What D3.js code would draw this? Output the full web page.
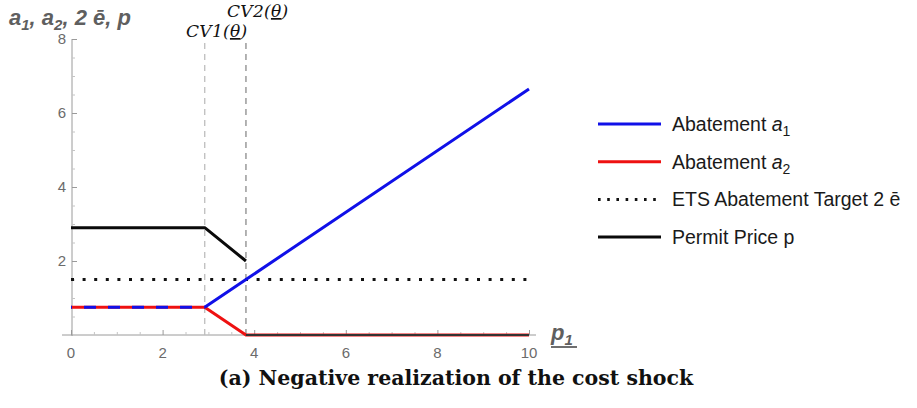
<!DOCTYPE html>
<html>
<head>
<meta charset="utf-8">
<script src="https://cdn.jsdelivr.net/npm/d3@7/dist/d3.min.js"></script>
<style>
  html, body { margin: 0; padding: 0; background: #fff; }
  svg { display: block; }
</style>
</head>
<body>
<svg id="chart" width="917" height="408"></svg>
<script>
// Breakpoints along p1 and the piecewise-linear series evaluated there
const p1Points = [0, 2.92, 3.82, 10];
const abatementA1 = [0.75, 0.75, 1.5, 6.65];
const abatementA2 = [0.75, 0.75, 0, 0];
// Permit price: constant, then falling to CV2, then zero beyond CV2
const permitHighP1 = [0, 2.92, 3.82];
const permitHigh = [2.9, 2.9, 2.0];
const permitLowP1 = [3.82, 10];
const permitLow = [0, 0];
const etsTarget = 1.5;
const criticalValues = [2.92, 3.82];
const xTicks = [0, 2, 4, 6, 8, 10];
const yTicks = [2, 4, 6, 8];

const svg = d3.select("#chart");
const x = d3.scaleLinear().domain([0, 10]).range([71, 529]);
const y = d3.scaleLinear().domain([0, 8]).range([335, 39]);
const axisGrey = "#9a9a9a";
const labelGrey = "#6b6b6b";

// ---- axes (Mathematica-style: ticks point inward) ----
svg.append("line").attr("x1", 62).attr("x2", 536).attr("y1", y(0)).attr("y2", y(0))
  .attr("stroke", axisGrey).attr("stroke-width", 1);
svg.append("line").attr("x1", x(0) + 1).attr("x2", x(0) + 1).attr("y1", y(8)).attr("y2", y(0) + 1)
  .attr("stroke", axisGrey).attr("stroke-width", 1);

const xAxis = d3.axisTop(x).tickValues(xTicks).tickSize(5).tickFormat("");
svg.append("g").attr("transform", `translate(0,${y(0)})`).call(xAxis)
  .call(g => g.select(".domain").remove())
  .call(g => g.selectAll("line").attr("stroke", axisGrey));
const xMinor = d3.axisTop(x).tickValues(d3.range(0, 10.01, 0.5).filter(v => v % 2 !== 0)).tickSize(3).tickFormat("");
svg.append("g").attr("transform", `translate(0,${y(0)})`).call(xMinor)
  .call(g => g.select(".domain").remove())
  .call(g => g.selectAll("line").attr("stroke", "#c4c4c4"));
svg.append("g").selectAll("text").data(xTicks).join("text")
  .attr("x", d => x(d)).attr("y", 358).attr("text-anchor", "middle")
  .attr("font-family", "Liberation Sans, Arial, sans-serif").attr("font-size", 15)
  .attr("fill", labelGrey).text(d => d);

const yAxis = d3.axisRight(y).tickValues(yTicks).tickSize(5).tickFormat("");
svg.append("g").attr("transform", `translate(${x(0) + 1},0)`).call(yAxis)
  .call(g => g.select(".domain").remove())
  .call(g => g.selectAll("line").attr("stroke", axisGrey));
const yMinor = d3.axisRight(y).tickValues(d3.range(0, 8.01, 0.5).filter(v => v % 2 !== 0)).tickSize(3).tickFormat("");
svg.append("g").attr("transform", `translate(${x(0) + 1},0)`).call(yMinor)
  .call(g => g.select(".domain").remove())
  .call(g => g.selectAll("line").attr("stroke", "#c4c4c4"));
svg.append("g").selectAll("text").data(yTicks).join("text")
  .attr("x", 66).attr("y", d => y(d) + 5).attr("text-anchor", "end")
  .attr("font-family", "Liberation Sans, Arial, sans-serif").attr("font-size", 15)
  .attr("fill", labelGrey).text(d => d);

// axis titles
const yTitle = svg.append("text").attr("x", 9).attr("y", 25)
  .attr("font-family", "Liberation Sans, Arial, sans-serif").attr("font-size", 22)
  .attr("font-weight", "bold").attr("font-style", "italic").attr("fill", "#5f5f5f");
yTitle.append("tspan").text("a");
yTitle.append("tspan").attr("dy", 5).attr("font-size", 15).text("1");
yTitle.append("tspan").attr("dy", -5).text(", a");
yTitle.append("tspan").attr("dy", 5).attr("font-size", 15).text("2");
yTitle.append("tspan").attr("dy", -5).text(", 2 ē, p");

const xTitle = svg.append("text").attr("x", 551).attr("y", 340)
  .attr("font-family", "Liberation Sans, Arial, sans-serif").attr("font-size", 22)
  .attr("font-weight", "bold").attr("font-style", "italic").attr("fill", "#5f5f5f");
xTitle.append("tspan").text("p");
xTitle.append("tspan").attr("dy", 5).attr("font-size", 15).text("1");
svg.append("line").attr("x1", 551).attr("x2", 577).attr("y1", 347).attr("y2", 347)
  .attr("stroke", "#5f5f5f").attr("stroke-width", 1.8);

// ---- critical value markers ----
const cvColors = ["#bdbdbd", "#8a8a8a"];
svg.append("g").selectAll("line").data(criticalValues).join("line")
  .attr("x1", d => x(d)).attr("x2", d => x(d)).attr("y1", y(0)).attr("y2", 40)
  .attr("stroke", (d, i) => cvColors[i]).attr("stroke-width", 1.3)
  .attr("stroke-dasharray", "6,5");

const cvLabels = [
  { name: "CV1", x: 186, y: 37 },
  { name: "CV2", x: 227, y: 17 }
];
cvLabels.forEach(c => {
  const t = svg.append("text").attr("x", c.x).attr("y", c.y)
    .attr("font-family", "DejaVu Serif, Liberation Serif, serif").attr("font-size", 17)
    .attr("font-style", "italic").attr("fill", "#111").attr("letter-spacing", 0.3);
  t.append("tspan").text(c.name + "(");
  t.append("tspan").attr("text-decoration", "underline").text("θ");
  t.append("tspan").text(")");
});

// ---- series ----
const line = d3.line().x(d => x(d[0])).y(d => y(d[1]));
const a1Pts = p1Points.map((p, i) => [p, abatementA1[i]]);
const a2Pts = p1Points.map((p, i) => [p, abatementA2[i]]);

// ETS target (dotted)
svg.append("path").attr("d", line([[0, etsTarget], [10, etsTarget]]))
  .attr("fill", "none").attr("stroke", "#111").attr("stroke-width", 3)
  .attr("stroke-dasharray", "3,8.6");

// a2 (red)
svg.append("path").attr("d", line(a2Pts)).attr("fill", "none")
  .attr("stroke", "#ee1111").attr("stroke-width", 3).attr("stroke-linejoin", "round");

// a1 (blue): dashed where it coincides with a2, solid afterwards
svg.append("path").attr("d", line(a1Pts.slice(0, 2))).attr("fill", "none")
  .attr("stroke", "#1010e8").attr("stroke-width", 3)
  .attr("stroke-dasharray", "12,12").attr("stroke-dashoffset", -13);
svg.append("path").attr("d", line(a1Pts.slice(1))).attr("fill", "none")
  .attr("stroke", "#1010e8").attr("stroke-width", 3).attr("stroke-linejoin", "round");

// permit price (black)
svg.append("path").attr("d", line(permitHighP1.map((p, i) => [p, permitHigh[i]])))
  .attr("fill", "none").attr("stroke", "#0a0a0a").attr("stroke-width", 3).attr("stroke-linejoin", "round");
svg.append("path").attr("d", line(permitLowP1.map((p, i) => [p, permitLow[i]])))
  .attr("fill", "none").attr("stroke", "#333").attr("stroke-width", 2);

// ---- legend ----
const legend = [
  { label: "Abatement ", sym: "a", sub: "1", color: "#1010e8", dash: null },
  { label: "Abatement ", sym: "a", sub: "2", color: "#ee1111", dash: null },
  { label: "ETS Abatement Target 2 ē", sym: null, color: "#111", dash: "2.6,6.6" },
  { label: "Permit Price p", sym: null, color: "#0a0a0a", dash: null }
];
const lg = svg.append("g").selectAll("g").data(legend).join("g")
  .attr("transform", (d, i) => `translate(0,${124 + i * 37.7})`);
lg.append("line").attr("x1", 598).attr("x2", 661).attr("y1", 0).attr("y2", 0)
  .attr("stroke", d => d.color).attr("stroke-width", 3)
  .attr("stroke-dasharray", d => d.dash);
lg.each(function (d) {
  const t = d3.select(this).append("text").attr("x", 672).attr("y", 7)
    .attr("font-family", "Liberation Sans, Arial, sans-serif").attr("font-size", 19.5)
    .attr("fill", "#1a1a1a");
  t.append("tspan").text(d.label);
  if (d.sym) {
    t.append("tspan").attr("font-style", "italic").text(d.sym);
    t.append("tspan").attr("dy", 5).attr("font-size", 14).text(d.sub);
  }
});

// ---- caption ----
svg.append("text").attr("x", 456).attr("y", 385).attr("text-anchor", "middle")
  .attr("font-family", "DejaVu Serif, Liberation Serif, serif").attr("font-size", 20.5)
  .attr("font-weight", "bold").attr("fill", "#111")
  .text("(a) Negative realization of the cost shock");
</script>
</body>
</html>
